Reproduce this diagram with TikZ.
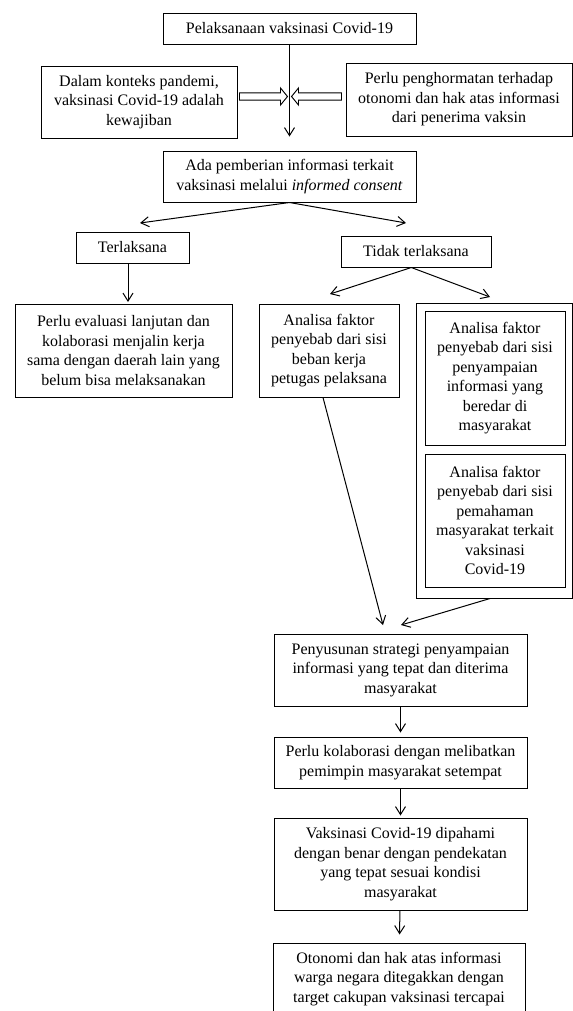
\documentclass[tikz,border=0pt]{standalone}
\usepackage{fontspec}
\setmainfont{Liberation Serif}
\usetikzlibrary{arrows.meta}

\tikzset{every picture/.style={line width=0.75pt}}
\tikzset{
  kotak/.style 2 args={draw, align=center, inner sep=0pt, minimum width=#1*0.75pt, minimum height=#2*0.75pt, font=\fontsize{12pt}{14.6pt}\selectfont},
  panah/.style={-{Straight Barb[length=6pt,width=7.5pt]}},
  panahbesar/.style={draw, line width=0.7pt, line join=miter}
}

\begin{document}
\begin{tikzpicture}[x=0.75pt,y=0.75pt,yscale=-1,xscale=1]
    \useasboundingbox (0,0) rectangle (573,1011);
    \clip (0,0) rectangle (573,1011);

    %Shape: Rectangle
    \node[kotak={253}{31}] (atas) at (289.5,28.5) {Pelaksanaan vaksinasi Covid-19};
    %Shape: Rectangle
    \node[kotak={196}{72}] (kiri) at (139,102) {Dalam konteks pandemi,\\vaksinasi Covid-19 adalah\\kewajiban};
    %Shape: Rectangle
    \node[kotak={226}{73}] (kanan) at (459,99.5) {Perlu penghormatan terhadap\\otonomi dan hak atas informasi\\dari penerima vaksin};
    %Shape: Rectangle
    \node[kotak={253}{51}] (ada) at (289.5,176.5) {Ada pemberian informasi terkait\\vaksinasi melalui \textit{informed consent}};
    %Shape: Rectangle
    \node[kotak={113}{31}] (terl) at (132.5,247.5) {Terlaksana};
    %Shape: Rectangle
    \node[kotak={150}{31}] (tidak) at (416,251.5) {Tidak terlaksana};
    %Shape: Rectangle
    \node[kotak={217}{93}] (evaluasi) at (123.5,350.5) {Perlu evaluasi lanjutan dan\\kolaborasi menjalin kerja\\sama dengan daerah lain yang\\belum bisa melaksanakan};
    %Shape: Rectangle
    \node[kotak={140}{93}] (beban) at (329,350.5) {Analisa faktor\\penyebab dari sisi\\beban kerja\\petugas pelaksana};
    %Shape: Rectangle
    \node[kotak={156}{295}] (luar) at (494,450.5) {};
    %Shape: Rectangle
    \node[kotak={140}{134}] (informasi) at (495,378) {Analisa faktor\\penyebab dari sisi\\penyampaian\\informasi yang\\beredar di\\masyarakat};
    %Shape: Rectangle
    \node[kotak={140}{133}] (pemahaman) at (495,520.5) {Analisa faktor\\penyebab dari sisi\\pemahaman\\masyarakat terkait\\vaksinasi\\Covid-19};
    %Shape: Rectangle
    \node[kotak={253}{72}] (strategi) at (400.5,670) {Penyusunan strategi penyampaian\\informasi yang tepat dan diterima\\masyarakat};
    %Shape: Rectangle
    \node[kotak={253}{51}] (kolaborasi) at (400.5,762.5) {Perlu kolaborasi dengan melibatkan\\pemimpin masyarakat setempat};
    %Shape: Rectangle
    \node[kotak={253}{92}] (dipahami) at (400.5,864) {Vaksinasi Covid-19 dipahami\\dengan benar dengan pendekatan\\yang tepat sesuai kondisi\\masyarakat};
    %Shape: Rectangle
    \node[kotak={252}{72}] (otonomi) at (399,979) {Otonomi dan hak atas informasi\\warga negara ditegakkan dengan\\target cakupan vaksinasi tercapai};

    % arrow ends
    \coordinate (tengah) at (289.5,96.5);
    \coordinate (ujungterl) at (140,223);
    \coordinate (ujungtidak) at (406,223);
    \coordinate (ujungeval) at (128,302);
    \coordinate (ujungbeban) at (330,294);
    \coordinate (ujungluar) at (490,297);
    \coordinate (ujungkiri) at (383,625);
    \coordinate (ujungkanan) at (401,625);

    %Straight Lines
    \draw[panah, shorten >=10.5pt] (atas) -- (ada);
    %Right Arrow
    \path[panahbesar] ([xshift=1.5pt]kiri.east |- tengah) ++(0,-3.7) -- ++(41,0) -- ++(0,-4.8) -- ++(7,8.5) -- ++(-7,8.5) -- ++(0,-4.8) -- ++(-41,0) -- cycle;
    %Left Arrow
    \path[panahbesar] ([xshift=-3pt]kanan.west |- tengah) ++(0,-3.7) -- ++(-43,0) -- ++(0,-4.8) -- ++(-7,8.5) -- ++(7,8.5) -- ++(0,-4.8) -- ++(43,0) -- cycle;
    %Straight Lines
    \draw[panah] (ada.south) -- (ujungterl);
    \draw[panah] (ada.south) -- (ujungtidak);
    \draw[panah] (terl.south -| ujungeval) -- (ujungeval);
    \draw[panah] ([xshift=-3.5pt]tidak.south) -- (ujungbeban);
    \draw[panah] ([xshift=-3.5pt]tidak.south) -- (ujungluar);
    \draw[panah] ([xshift=-4.5pt]beban.south) -- (ujungkiri);
    \draw[panah] ([xshift=-3pt]luar.south) -- (ujungkanan);
    \draw[panah, shorten >=3pt] (strategi) -- (kolaborasi);
    \draw[panah, shorten >=1.5pt] (kolaborasi) -- (dipahami);
    \draw[panah, shorten >=6pt] (dipahami) -- (otonomi);

\end{tikzpicture}
\end{document}
